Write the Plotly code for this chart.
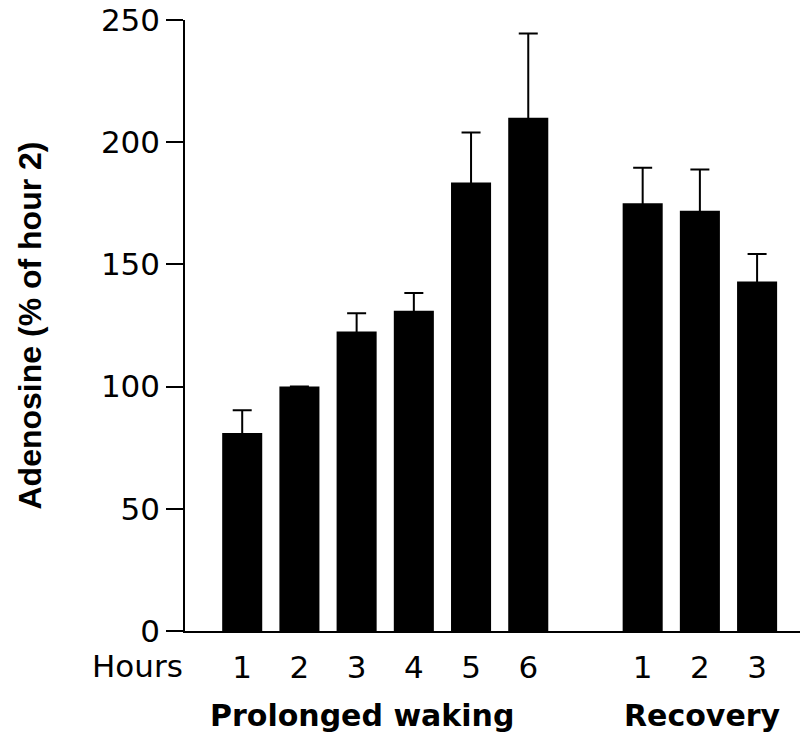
import plotly.graph_objects as go

# Data
x_positions = [1, 2, 3, 4, 5, 6, 8, 9, 10]
hour_labels = ["1", "2", "3", "4", "5", "6", "1", "2", "3"]
adenosine = [81, 100, 122.5, 131, 183.5, 210, 175, 172, 143]
sem_upper = [9.3, None, 7.5, 7.3, 20.5, 34.5, 14.5, 16.8, 11.3]
y_ticks = [0, 50, 100, 150, 200, 250]
group_labels = ["Prolonged waking", "Recovery"]
group_label_x = [0.4, 7.64]

# lower end of each error bar sits just inside the bar so its cap is hidden
sem_lower = [None if s is None else 1.5 for s in sem_upper]

fig = go.Figure()
fig.add_trace(go.Bar(
    x=x_positions,
    y=adenosine,
    width=0.7,
    marker=dict(color="black", line=dict(width=0)),
    error_y=dict(type="data", symmetric=False, array=sem_upper,
                 arrayminus=sem_lower,
                 color="black", thickness=2, width=9.5),
    showlegend=False,
))

tick_font = dict(family="DejaVu Sans", size=31, color="black")

fig.update_layout(
    width=801, height=734,
    margin=dict(l=185, r=1, t=20, b=103),
    paper_bgcolor="white", plot_bgcolor="white",
    xaxis=dict(range=[0, 10.75], tickvals=x_positions, ticktext=hour_labels,
               showline=True, linecolor="black", linewidth=1.5,
               ticks="outside", ticklen=8, tickcolor="rgba(0,0,0,0)",
               showgrid=False, zeroline=False, tickfont=tick_font),
    yaxis=dict(range=[0, 250], tickvals=y_ticks,
               showline=True, linecolor="black", linewidth=1.5,
               ticks="outside", ticklen=17, tickwidth=1.5, tickcolor="black",
               showgrid=False, zeroline=False, tickfont=tick_font,
               title=dict(text="<b>Adenosine (% of hour 2)</b>",
                          font=dict(family="Liberation Sans, Arial", size=32, color="black"),
                          standoff=50)),
)

fig.add_annotation(text="Hours", x=0, xref="x", xanchor="right",
                   y=0, yref="y", yanchor="top", yshift=-15,
                   showarrow=False, font=tick_font)
for lbl, gx in zip(group_labels, group_label_x):
    fig.add_annotation(text="<b>" + lbl + "</b>", x=gx, xref="x", xanchor="left",
                       y=0, yref="y", yanchor="top", yshift=-65,
                       showarrow=False,
                       font=dict(family="DejaVu Sans", size=30, color="black"))

fig.write_html("out.html")
